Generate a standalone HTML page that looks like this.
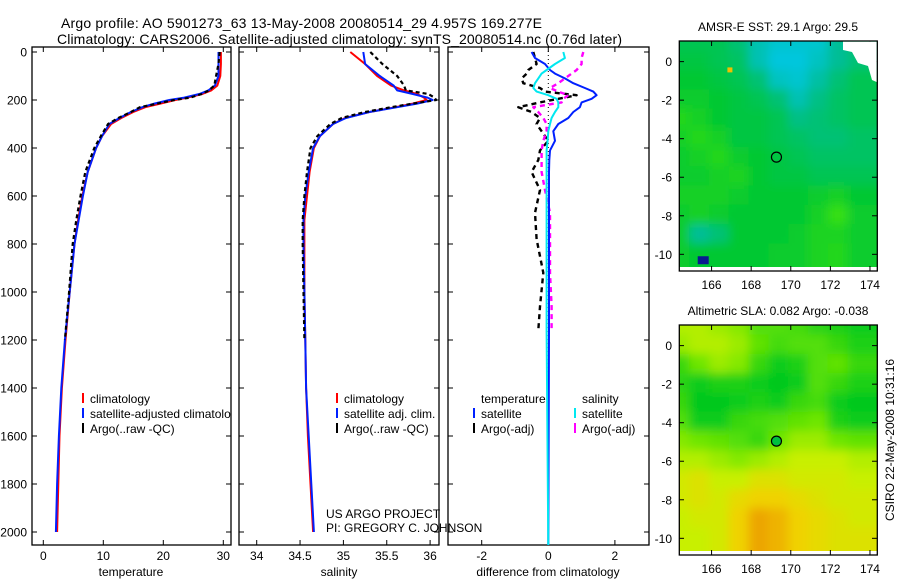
<!DOCTYPE html>
<html><head><meta charset="utf-8"><style>
html,body{margin:0;padding:0;background:#fff;}
svg{display:block;font-family:"Liberation Sans",sans-serif;}
</style></head><body>
<svg id="fig" width="900" height="580" viewBox="0 0 900 580">
<defs>
<clipPath id="c1"><rect x="32" y="47" width="199" height="498"/></clipPath>
<clipPath id="c2"><rect x="239" y="47" width="200" height="498"/></clipPath>
<clipPath id="c3"><rect x="448" y="47" width="201" height="498"/></clipPath>
<clipPath id="cm1"><rect x="679" y="41" width="198" height="230"/></clipPath>
<clipPath id="cm2"><rect x="679" y="325" width="198" height="230"/></clipPath>
<filter id="bl" x="-5%" y="-5%" width="110%" height="110%"><feGaussianBlur stdDeviation="5"/></filter>
</defs>
<text x="61" y="28" font-size="14" textLength="481">Argo profile: AO 5901273_63 13-May-2008 20080514_29 4.957S 169.277E</text>
<text x="57" y="44" font-size="14" textLength="565">Climatology: CARS2006. Satellite-adjusted climatology: synTS_20080514.nc (0.76d later)</text>
<g id="g"></g>
</svg>
<script>
// ---- profile data ----
const depthT = [0,50,100,140,160,175,190,200,215,230,250,275,300,350,400,500,600,700,800,1000,1200,1400,1600,1800,2000];
const tempClim = [29.6,29.6,29.5,29.0,28.0,26.5,24.0,22.0,19.5,17.0,15.0,13.0,11.3,9.8,8.8,7.4,6.5,5.8,5.2,4.4,3.7,3.1,2.7,2.5,2.3];
const tempSat  = [29.2,29.2,29.2,28.6,27.5,26.0,23.5,21.0,18.5,16.5,14.6,12.7,11.0,9.8,8.8,7.4,6.6,5.9,5.2,4.4,3.6,3.0,2.6,2.3,2.1];
const tempArgo = [29.4,29.2,28.8,28.5,27.6,26.4,24.5,21.8,19.0,16.1,14.6,12.5,10.8,9.6,8.5,7.0,6.2,5.5,4.9,4.3,3.6];
const salClim = [35.08,35.25,35.39,35.55,35.70,35.85,35.93,35.96,35.80,35.60,35.30,35.02,34.88,34.73,34.66,34.61,34.58,34.55,34.55,34.55,34.56,34.57,34.59,34.62,34.65];
const salSat  = [35.23,35.25,35.42,35.58,35.62,35.80,35.97,36.03,35.85,35.62,35.30,35.03,34.88,34.73,34.65,34.60,34.56,34.54,34.54,34.55,34.56,34.57,34.60,34.63,34.66];
const salArgo = [35.31,35.45,35.62,35.70,35.72,35.98,36.05,36.07,35.80,35.55,35.25,34.98,34.85,34.70,34.62,34.58,34.55,34.53,34.53,34.54,34.55];
const depthD = [0,25,50,75,90,110,130,150,165,180,195,210,230,250,275,300,330,370,410,450,500,575,670,780,920,1060,1160];
const dTempSat  = [-0.5,-0.4,-0.1,0.05,0.2,0.5,0.75,1.1,1.35,1.45,1.3,1.0,0.95,0.75,0.6,0.3,0.15,0.2,0.05,0.03,0.02,0.02,0.02,0.02,0.02,0.02,0.02];
const dSalSat   = [0.45,0.5,0.2,-0.05,-0.2,-0.3,-0.4,-0.45,-0.35,0.0,0.25,0.3,0.3,0.2,0.1,0.05,0.0,-0.02,-0.05,-0.05,-0.05,-0.05,-0.05,-0.05,-0.05,-0.05,-0.05];
const dTempArgo = [-0.45,-0.4,-0.35,-0.6,-0.65,-0.8,-0.75,-0.25,-0.1,0.85,0.3,-0.25,-0.9,-0.5,-0.25,-0.35,-0.2,0.0,-0.25,-0.3,-0.5,-0.25,-0.4,-0.35,-0.15,-0.25,-0.3];
const dSalArgo  = [1.05,1.0,1.0,0.85,0.7,0.5,0.3,0.05,0.3,0.6,0.45,0.4,-0.45,-0.3,-0.15,-0.05,-0.05,-0.15,-0.2,-0.2,-0.2,-0.1,0.05,0.05,0.05,0.1,0.1];
const depthTicks = [0,200,400,600,800,1000,1200,1400,1600,1800,2000];
const tempTicks = [0,10,20,30];
const salTicks = [34,34.5,35,35.5,36];
const diffTicks = [-2,0,2];
// ---- map data (1-degree cells, rows north->south) ----
const lonTicks = [166,168,170,172,174];
const latTicks = [0,-2,-4,-6,-8,-10];
const sstGrid = [
[0.5,0.5,0.5,0.6,0.8,0.9,0.9,0.9,0.7,0.6],
[0.45,0.45,0.5,0.55,0.8,0.95,0.95,0.85,0.7,0.6],
[0.4,0.4,0.45,0.5,0.6,0.85,0.9,0.75,0.6,0.5],
[0.35,0.35,0.4,0.45,0.5,0.6,0.8,0.65,0.55,0.5],
[0.2,0.3,0.4,0.45,0.45,0.5,0.65,0.6,0.55,0.5],
[0.3,0.2,0.3,0.45,0.45,0.5,0.55,0.6,0.6,0.55],
[0.35,0.3,0.2,0.35,0.4,0.45,0.5,0.55,0.55,0.55],
[0.35,0.35,0.3,0.25,0.4,0.45,0.45,0.5,0.5,0.5],
[0.3,0.3,0.3,0.35,0.4,0.4,0.4,0.35,0.3,0.4],
[0.35,0.3,0.35,0.4,0.4,0.4,0.4,0.3,0.1,0.35],
[0.35,0.7,0.6,0.4,0.4,0.4,0.35,0.25,0.25,0.35],
[0.35,0.4,0.4,0.4,0.4,0.35,0.35,0.25,0.2,0.35]];
const slaGrid = [
[0.55,0.55,0.5,0.45,0.3,0.3,0.25,0.15,0.1,0.05],
[0.5,0.55,0.55,0.5,0.35,0.25,0.3,0.3,0.2,0.1],
[0.2,0.4,0.5,0.45,0.2,0.05,0.1,0.3,0.35,0.2],
[0.15,0.05,0.1,0.1,0.05,0.0,0.05,0.3,0.2,0.1],
[0.2,0.0,0.0,0.05,0.1,0.05,0.2,0.25,0.05,0.0],
[0.3,0.05,0.05,0.2,0.25,0.3,0.35,0.4,0.1,0.05],
[0.45,0.4,0.35,0.3,0.2,0.4,0.5,0.5,0.4,0.35],
[0.55,0.55,0.5,0.45,0.5,0.55,0.6,0.6,0.6,0.55],
[0.65,0.7,0.6,0.6,0.7,0.7,0.65,0.65,0.65,0.6],
[0.65,0.7,0.65,0.75,0.8,0.8,0.75,0.7,0.65,0.65],
[0.6,0.65,0.65,0.8,0.95,0.9,0.8,0.75,0.7,0.65],
[0.6,0.6,0.65,0.8,0.95,0.9,0.8,0.75,0.7,0.7]];
const argoLon = 169.277, argoLat = -4.957;

const NS="http://www.w3.org/2000/svg";
const G=document.getElementById('g');
function mk(tag,attrs,parent){const e=document.createElementNS(NS,tag);for(const k in attrs)e.setAttribute(k,attrs[k]);(parent||G).appendChild(e);return e;}
const yD = d => 52 + d*0.24;
const xT = v => 43.3 + v*6;
const xS = v => 256.7 + (v-34)*86.7;
const xDf = v => 548.3 + v*33.3;
const FS = 12;

function axesBox(x0,x1,name){
  const r=mk('rect',{x:x0,y:47,width:x1-x0,height:498,fill:'none',stroke:'#000','stroke-width':1.3});
  
  
  depthTicks.forEach(d=>{
    mk('line',{x1:x0,x2:x0+5,y1:yD(d),y2:yD(d),stroke:'#000'});
    mk('line',{x1:x1-5,x2:x1,y1:yD(d),y2:yD(d),stroke:'#000'});
  });
}
function xTicks(arr,fx,lbl,name){
  arr.forEach(v=>{
    const x=fx(v);
    mk('line',{x1:x,x2:x,y1:545,y2:540,stroke:'#000'});
    mk('line',{x1:x,x2:x,y1:47,y2:52,stroke:'#000'});
    const t=mk('text',{x:x,y:560,'font-size':FS,'text-anchor':'middle'});t.textContent=lbl?lbl(v):v;
    
    
  });
}
function line(xs,ds,fx,color,w,dash,clip,name){
  const pts=xs.map((v,i)=>fx(v).toFixed(1)+','+yD(ds[i]).toFixed(1)).join(' ');
  const a={points:pts,fill:'none',stroke:color,'stroke-width':w,'clip-path':'url(#'+clip+')','stroke-linejoin':'round'};
  if(dash)a['stroke-dasharray']=dash;
  const p=mk('polyline',a);
  
  
}
depthTicks.forEach(d=>{const t=mk('text',{x:27,y:yD(d)+4.5,'font-size':FS,'text-anchor':'end'});t.textContent=d;
  
  });

axesBox(32,231,'temperature-axes');
xTicks(tempTicks,xT,null,'temperature');
line(tempClim,depthT,xT,'#f00',2,null,'c1','temp-climatology-line');
line(tempSat,depthT,xT,'#0020ff',2,null,'c1','temp-satellite-line');
line(tempArgo,depthT,xT,'#000',2.2,'4,3','c1','temp-argo-line');
axesBox(239,439,'salinity-axes');
xTicks(salTicks,xS,null,'salinity');
line(salClim,depthT,xS,'#f00',2,null,'c2','sal-climatology-line');
line(salSat,depthT,xS,'#0020ff',2,null,'c2','sal-satellite-line');
line(salArgo,depthT,xS,'#000',2.2,'4,3','c2','sal-argo-line');
axesBox(448,649,'difference-axes');
xTicks(diffTicks,xDf,null,'difference');
mk('line',{x1:xDf(0),x2:xDf(0),y1:47,y2:545,stroke:'#000','stroke-dasharray':'1,3'});
line(dTempArgo,depthD,xDf,'#000',2.4,'5,4','c3','diff-temp-argo-line');
line(dSalArgo,depthD,xDf,'#f0f',2.4,'5,4','c3','diff-sal-argo-line');
line(dTempSat.concat([0.0]),depthD.concat([2054]),xDf,'#0020ff',2,null,'c3','diff-temp-satellite-line');
line(dSalSat.concat([0.0]),depthD.concat([2054]),xDf,'#00e8f0',2,null,'c3','diff-sal-satellite-line');

[['temperature',131,'temperature-axis-title'],['salinity',339,'salinity-axis-title'],['difference from climatology',548,'difference-axis-title']].forEach(a=>{
  const t=mk('text',{x:a[1],y:576,'font-size':FS,'text-anchor':'middle'});t.textContent=a[0];
  
  
});
function leg(x,y,color,txt,clip,name){
  const g=mk('g',clip?{'clip-path':'url(#'+clip+')'}:{});
  
  
  if(color)mk('line',{x1:x,x2:x,y1:y-10,y2:y,stroke:color,'stroke-width':2},g);
  const t=mk('text',{x:x+7,y:y,'font-size':FS},g);t.textContent=txt;
}
leg(83,403,'#f00','climatology','c1','legend-entry-climatology');
leg(83,418,'#0020ff','satellite-adjusted climatology','c1','legend-entry-satellite');
leg(83,433,'#000','Argo(..raw -QC)','c1','legend-entry-argo');
leg(337,403,'#f00','climatology','c2','legend-entry-climatology');
leg(337,418,'#0020ff','satellite adj. clim.','c2','legend-entry-satellite');
leg(337,433,'#000','Argo(..raw -QC)','c2','legend-entry-argo');
leg(474,403,null,'temperature',null,'legend-header-temperature');
leg(474,418,'#0020ff','satellite',null,'legend-entry-temp-satellite');
leg(474,433,'#000','Argo(-adj)',null,'legend-entry-temp-argo');
leg(575,403,null,'salinity',null,'legend-header-salinity');
leg(575,418,'#00e8f0','satellite',null,'legend-entry-sal-satellite');
leg(575,433,'#f0f','Argo(-adj)',null,'legend-entry-sal-argo');
[['US ARGO PROJECT',518],['PI: GREGORY C. JOHNSON',532]].forEach((a,i)=>{
  const t=mk('text',{x:326,y:a[1],'font-size':FS});t.textContent=a[0];
  
  
});

// ---- maps ----
function lerpCol(stops,v){
  for(let i=0;i<stops.length-1;i++){
    const a=stops[i],b=stops[i+1];
    if(v<=b[0]){const f=(v-a[0])/(b[0]-a[0]);return 'rgb('+[1,2,3].map(k=>Math.round(a[k]+(b[k]-a[k])*f)).join(',')+')';}
  }
  const l=stops[stops.length-1];return 'rgb('+l[1]+','+l[2]+','+l[3]+')';
}
const sstStops=[[0,70,230,10],[0.4,0,200,50],[0.7,0,190,150],[1,0,200,235]];
const slaStops=[[0,0,200,30],[0.4,110,230,0],[0.6,200,240,0],[0.8,240,210,0],[1,235,150,0]];
function drawMap(grid,stops,top,clip,title,name){
  const lon0=164.37, lonPx=19.8, lat0=1.07, latPx=19.27;
  const xL=v=>679.3+(v-lon0)*lonPx, yL=v=>top+(lat0-v)*latPx;
  const bg=mk('g',{'clip-path':'url(#'+clip+')'});
  
  
  const inner=mk('g',{filter:'url(#bl)'},bg);
  const nr=grid.length, nc=grid[0].length, pad=20;
  grid.forEach((row,r)=>row.forEach((v,c)=>{
    let x=xL(lon0+c-0.5), y=yL(lat0-r+0.5), w=lonPx+1, h=latPx+1;
    if(c===0){x-=pad;w+=pad;} if(c===nc-1){w+=pad;}
    if(r===0){y-=pad;h+=pad;} if(r===nr-1){h+=pad;}
    const cell=mk('rect',{x:x.toFixed(1),y:y.toFixed(1),width:w.toFixed(1),height:h.toFixed(1),fill:lerpCol(stops,v)},inner);
    
    
  }));
  mk('rect',{x:679,y:top+230-4,width:198,height:4,fill:'#fff'},bg);
  const fr=mk('rect',{x:679.3,y:top,width:198,height:230,fill:'none',stroke:'#000','stroke-width':1.3});
  
  
  lonTicks.forEach(v=>{const x=xL(v);
    mk('line',{x1:x,x2:x,y1:top+230,y2:top+225,stroke:'#000'});mk('line',{x1:x,x2:x,y1:top,y2:top+5,stroke:'#000'});
    const t=mk('text',{x:x,y:top+248,'font-size':FS,'text-anchor':'middle'});t.textContent=v;
    
    });
  latTicks.forEach(v=>{const y=yL(v);
    mk('line',{x1:679,x2:684,y1:y,y2:y,stroke:'#000'});mk('line',{x1:872,x2:877,y1:y,y2:y,stroke:'#000'});
    const t=mk('text',{x:672,y:y+4.5,'font-size':FS,'text-anchor':'end'});t.textContent=v;
    
    });
  const ti=mk('text',{x:778,y:top-10,'font-size':FS,'text-anchor':'middle'});ti.textContent=title;
  
  
  return {xL,yL};
}
const m1=drawMap(sstGrid,sstStops,41,'cm1','AMSR-E SST: 29.1 Argo: 29.5','sst-map');
mk('polygon',{points:'843,41.7 876.6,41.7 876.6,82 872,80 868,66 858,63 852,52 843,50',fill:'#fff'});
mk('rect',{x:m1.xL(165.3),y:m1.yL(-10.1),width:11,height:8,fill:'#0a1a90'});
mk('rect',{x:m1.xL(166.8),y:m1.yL(-0.3),width:5,height:5,fill:'#f0c000'});
const c1=mk('circle',{cx:m1.xL(argoLon),cy:m1.yL(argoLat),r:5,fill:'none',stroke:'#000','stroke-width':1.2});


const m2=drawMap(slaGrid,slaStops,325,'cm2','Altimetric SLA: 0.082 Argo: -0.038','sla-map');
const c2=mk('circle',{cx:m2.xL(argoLon),cy:m2.yL(argoLat),r:5,fill:'#00c040',stroke:'#000','stroke-width':1.2});


const st=mk('text',{x:0,y:0,'font-size':FS,'text-anchor':'middle',transform:'translate(894,440) rotate(-90)'});
st.textContent='CSIRO 22-May-2008 10:31:16';


</script>
</body></html>
